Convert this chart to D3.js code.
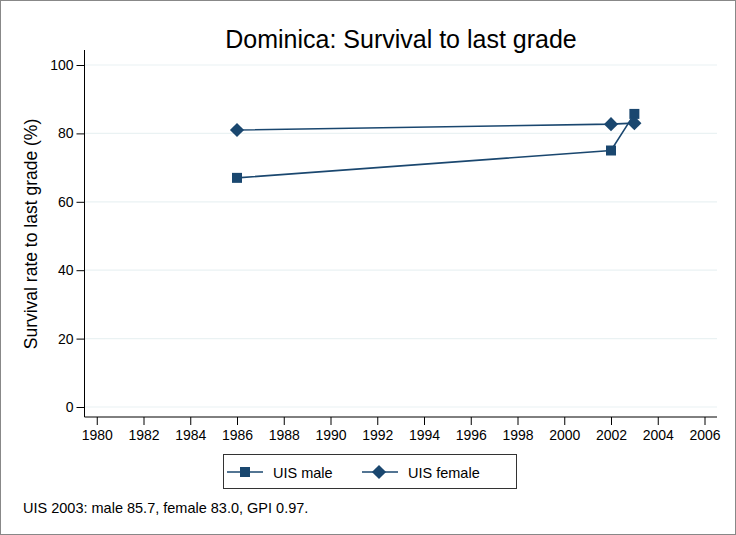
<!DOCTYPE html>
<html><head><meta charset="utf-8">
<script src="https://cdn.jsdelivr.net/npm/d3@7"></script>
<style>body{margin:0;background:#fff}svg{display:block;font-family:"Liberation Sans",Arial,sans-serif}</style>
</head><body><svg id="c" width="736" height="535"></svg>
<script>
const years = [1986, 2002, 2003];
const maleValues = [67.0, 75.0, 85.7];
const femaleValues = [81.0, 82.7, 83.0];
const xTicks = [1980,1982,1984,1986,1988,1990,1992,1994,1996,1998,2000,2002,2004,2006];
const yTicks = [0,20,40,60,80,100];
const seriesNames = ["UIS male", "UIS female"];
const titleText = "Dominica: Survival to last grade";
const yLabel = "Survival rate to last grade (%)";
const noteText = "UIS 2003: male 85.7, female 83.0, GPI 0.97.";

(function(){
const svg = d3.select("#c");
const col = "#1a476f";
const ff = "Liberation Sans, Arial, sans-serif";
svg.append("rect").attr("x",0.5).attr("y",0.5).attr("width",735).attr("height",534).attr("fill","#fff").attr("stroke","#888");

const x = d3.scaleLinear().domain([1980,2006]).range([96.75,704.5]);
const y = d3.scaleLinear().domain([0,100]).range([407,65]);
const pL=84.5, pR=717, pT=50, pB=417;

svg.append("g").selectAll("line").data(yTicks).join("line")
  .attr("x1",pL).attr("x2",pR).attr("y1",d=>y(d)).attr("y2",d=>y(d))
  .attr("stroke","#eaf2f3").attr("stroke-width",1.2);

const ya = svg.append("g").attr("transform",`translate(${pL},0)`)
  .call(d3.axisLeft(y).tickValues(yTicks).tickSize(8).tickPadding(3));
ya.select(".domain").attr("d",`M0,${pT}V${pB}`).attr("stroke","#000");
ya.selectAll("text").attr("font-size",14).attr("fill","#000").attr("font-family",ff);
const xa = svg.append("g").attr("transform",`translate(0,${pB})`)
  .call(d3.axisBottom(x).tickValues(xTicks).tickFormat(d3.format("d")).tickSize(8).tickPadding(5));
xa.select(".domain").attr("d",`M${pL},0H${pR}`).attr("stroke","#000");
xa.selectAll("text").attr("font-size",14).attr("fill","#000").attr("font-family",ff);

const line = d3.line().x(d=>x(d[0])).y(d=>y(d[1]));
const male = years.map((yr,i)=>[yr,maleValues[i]]);
const female = years.map((yr,i)=>[yr,femaleValues[i]]);
[male,female].forEach(s=>svg.append("path").attr("d",line(s)).attr("fill","none").attr("stroke",col).attr("stroke-width",1.6));

const sqPath = d3.symbol().type(d3.symbolSquare).size(100)();
const dmPath = d3.symbol().type(d3.symbolSquare).size(100)();
svg.append("g").selectAll("path").data(male).join("path")
  .attr("transform",d=>`translate(${x(d[0])},${y(d[1])})`).attr("d",sqPath).attr("fill",col);
svg.append("g").selectAll("path").data(female).join("path")
  .attr("d",dmPath).attr("fill",col)
  .attr("transform",d=>`translate(${x(d[0])},${y(d[1])}) rotate(45)`);

svg.append("text").attr("x",401).attr("y",48).attr("text-anchor","middle").attr("font-size",25).attr("fill","#000").text(titleText);
svg.append("text").attr("transform",`translate(37,234) rotate(-90)`).attr("text-anchor","middle").attr("font-size",17.5).attr("fill","#000").text(yLabel);

const lg = svg.append("g");
lg.append("rect").attr("x",223.5).attr("y",454.5).attr("width",293).attr("height",34).attr("fill","#fff").attr("stroke","#333");
const items=[{n:seriesNames[0],x0:227,t:"sq"},{n:seriesNames[1],x0:362,t:"dm"}];
items.forEach(it=>{
  lg.append("line").attr("x1",it.x0).attr("x2",it.x0+36).attr("y1",472).attr("y2",472).attr("stroke",col).attr("stroke-width",1.6);
  if(it.t==="sq") lg.append("path").attr("transform",`translate(${it.x0+18},472)`).attr("d",sqPath).attr("fill",col);
  else lg.append("path").attr("transform",`translate(${it.x0+17},472) rotate(45)`).attr("d",dmPath).attr("fill",col);
  lg.append("text").attr("x",it.x0+46).attr("y",478).attr("font-size",14.5).attr("fill","#000").text(it.n);
});
svg.append("text").attr("x",23).attr("y",513).attr("font-size",14.5).attr("fill","#000").text(noteText);
})();
</script></body></html>
